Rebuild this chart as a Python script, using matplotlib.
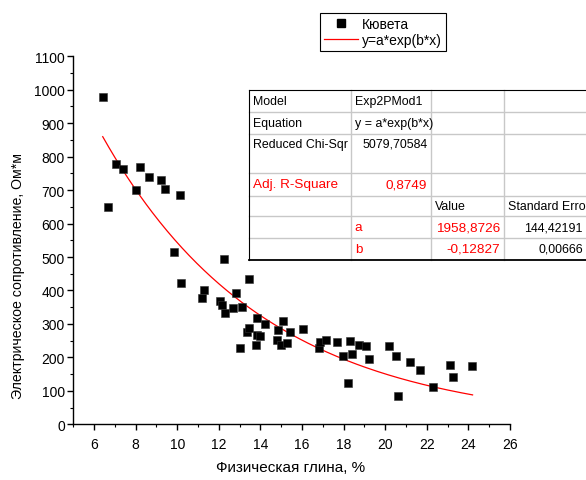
import numpy as np
import matplotlib
matplotlib.use("Agg")
import matplotlib.pyplot as plt
from matplotlib.ticker import MultipleLocator
from matplotlib.lines import Line2D
from matplotlib.patches import Rectangle

plt.rcParams['font.family'] = ['Liberation Sans', 'DejaVu Sans']

# Data: физическая глина (%) vs электрическое сопротивление (Ом*м)
clay = [6.42, 6.67, 7.04, 7.38, 8.02, 8.23, 8.63, 9.22, 9.43, 9.83,
        10.13, 10.2, 11.19, 11.3, 12.06, 12.15, 12.24, 12.31, 12.68, 12.84,
        13.0, 13.1, 13.34, 13.44, 13.47, 13.79, 13.84, 13.85, 14.0, 14.24,
        14.78, 14.86, 15.0, 15.07, 15.29, 15.42, 16.05, 16.82, 16.87, 17.15,
        17.7, 17.97, 18.21, 18.3, 18.4, 18.76, 19.09, 19.24, 20.17, 20.5,
        20.63, 21.19, 21.66, 22.3, 23.12, 23.27, 24.19]
resist = [977, 650, 777, 762, 699, 769, 740, 731, 704, 515,
          685, 421, 378, 402, 368, 356, 495, 332, 348, 391,
          227, 351, 276, 434, 288, 238, 318, 267, 265, 300,
          253, 282, 238, 309, 244, 277, 285, 229, 245, 251,
          247, 205, 124, 250, 211, 238, 233, 196, 235, 205,
          84, 186, 163, 111, 177, 141, 173]

fit_a = 1958.8726
fit_b = -0.12827
fit_range = [6.42, 24.2]

x_ticks = [6, 8, 10, 12, 14, 16, 18, 20, 22, 24, 26]
y_ticks = [0, 100, 200, 300, 400, 500, 600, 700, 800, 900, 1000, 1100]

table_rows = [
    ["Model", "Exp2PMod1", "", ""],
    ["Equation", "y = a*exp(b*x)", "", ""],
    ["Reduced Chi-Sqr", "5079,70584", "", ""],
    ["Adj. R-Square", "0,8749", "", ""],
    ["", "", "Value", "Standard Erro"],
    ["", "a", "1958,8726", "144,42191"],
    ["", "b", "-0,12827", "0,00666"],
]

W, H = 586, 481
fig = plt.figure(figsize=(W / 100, H / 100), dpi=100)
ax = fig.add_axes([73.2 / W, 1 - 425.3 / H, (510 - 73.2) / W, (425.3 - 57.3) / H])

ax.plot(clay, resist, 's', color='black', markersize=5.4, markeredgewidth=0.4,
        markeredgecolor='#333333', zorder=3, clip_on=False)
xf = np.linspace(fit_range[0], fit_range[1], 300)
ax.plot(xf, fit_a * np.exp(fit_b * xf), color='red', lw=0.9, zorder=2)

ax.set_xlim(5, 26)
ax.set_ylim(0, 1100)
ax.set_xticks(x_ticks)
ax.set_yticks(y_ticks)
ax.xaxis.set_minor_locator(MultipleLocator(1))
ax.yaxis.set_minor_locator(MultipleLocator(50))
for s in ['top', 'right']:
    ax.spines[s].set_visible(False)
for s in ['left', 'bottom']:
    ax.spines[s].set_linewidth(1.0)
ax.tick_params(axis='both', which='major', direction='out', length=4.5, width=1.0,
               labelsize=10)
ax.tick_params(axis='both', which='minor', direction='out', length=2.5, width=0.8)
ax.tick_params(axis='x', which='major', pad=4.5)
ax.tick_params(axis='y', which='major', pad=1.5)

fig.text(291 / W, 1 - 468 / H, "Физическая глина, %", ha='center', va='center', fontsize=11)
fig.text(18 / W, 1 - 276 / H, "Электрическое сопротивление, Ом*м", ha='center',
         va='center', rotation=90, fontsize=10.2)

# Legend
handles = [Line2D([], [], marker='s', color='black', linestyle='None', markersize=5.4),
           Line2D([], [], color='red', lw=0.9)]
leg = fig.legend(handles, ["Кювета", "y=a*exp(b*x)"], loc='upper left',
                 bbox_to_anchor=(320 / W, 1 - 14 / H), fontsize=10, frameon=True,
                 fancybox=False, edgecolor='black', framealpha=1,
                 handlelength=2.4, handletextpad=0.35, borderpad=0.3,
                 labelspacing=0.1, borderaxespad=0)
leg.get_frame().set_linewidth(0.8)

# Results table (figure pixel coordinates)
col_x = [249.3, 350.7, 431.3, 504.3, 620]
row_y = [91, 113.3, 135, 174.3, 196.7, 217.3, 239.3, 260.7]

def fx(px):
    return px / W

def fy(py):
    return 1 - py / H

bg = Rectangle((fx(col_x[0]), fy(row_y[-1])), fx(col_x[-1]) - fx(col_x[0]),
               fy(row_y[0]) - fy(row_y[-1]), transform=fig.transFigure,
               facecolor='white', edgecolor='none', zorder=5)
fig.add_artist(bg)
for yy in row_y[1:-1]:
    fig.add_artist(Line2D([fx(col_x[0]), 1], [fy(yy), fy(yy)], transform=fig.transFigure,
                          color='#c8c8c8', lw=1.0, zorder=6))
for xx in col_x[1:4]:
    fig.add_artist(Line2D([fx(xx), fx(xx)], [fy(row_y[0]), fy(row_y[-1])],
                          transform=fig.transFigure, color='#c8c8c8', lw=1.0, zorder=6))
fig.add_artist(Line2D([fx(col_x[0]), 1], [fy(row_y[0]), fy(row_y[0])],
                      transform=fig.transFigure, color='black', lw=0.8, zorder=7))
fig.add_artist(Line2D([fx(col_x[0]), 1], [fy(row_y[-1]), fy(row_y[-1])],
                      transform=fig.transFigure, color='black', lw=1.3, zorder=7))
fig.add_artist(Line2D([fx(col_x[0]), fx(col_x[0])], [fy(row_y[0]), fy(row_y[-1])],
                      transform=fig.transFigure, color='black', lw=0.8, zorder=7))

red_cells = {(3, 0), (3, 1), (5, 1), (5, 2), (6, 1), (6, 2)}
right_cells = {(2, 1), (3, 1), (5, 2), (6, 2), (5, 3), (6, 3)}
for r, row in enumerate(table_rows):
    top, bot = row_y[r], row_y[r + 1]
    if r == 2:
        cy = top + 10
    else:
        cy = (top + bot) / 2
    for c, txt in enumerate(row):
        if not txt:
            continue
        color = 'red' if (r, c) in red_cells else 'black'
        fs = 9.7 if (r, c) in red_cells else 8.9
        if (r, c) in right_cells:
            if c == 3:
                xpos = 583
            else:
                xpos = col_x[c + 1] - 4
            ha = 'right'
        else:
            xpos = col_x[c] + 4
            ha = 'left'
        fig.text(fx(xpos), fy(cy), txt, ha=ha, va='center', fontsize=fs, color=color,
                 zorder=8)

fig.savefig("out.png", dpi=100)
